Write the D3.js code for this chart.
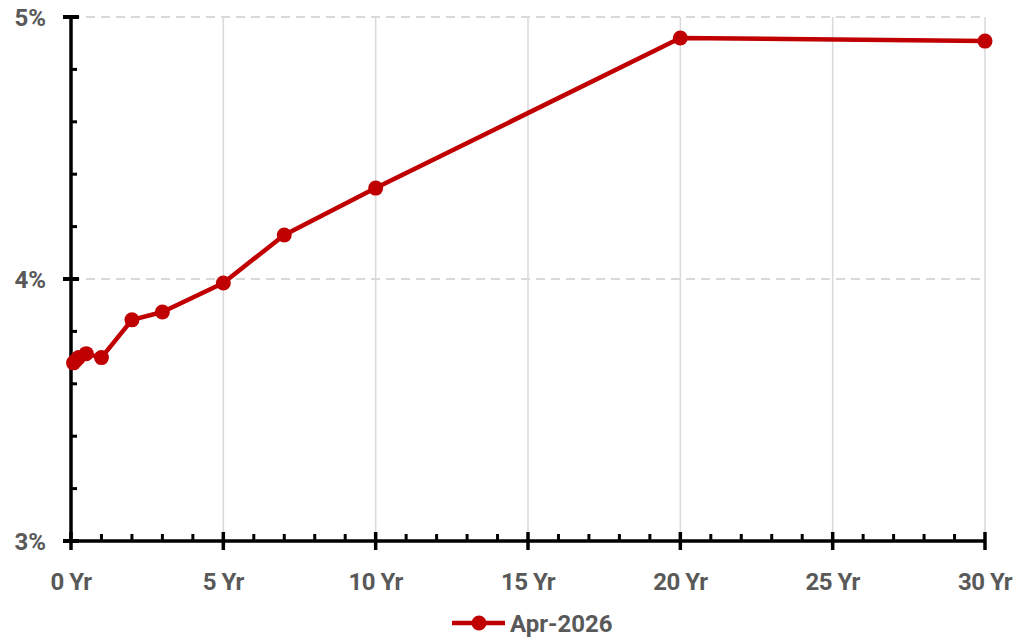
<!DOCTYPE html>
<html>
<head>
<meta charset="utf-8">
<script src="https://cdn.jsdelivr.net/npm/d3@7"></script>
<style>
body{margin:0;background:#fff;}
text{font-family:"Liberation Sans Narrow","Arial Narrow",Roboto,sans-serif;font-weight:bold;fill:#595959;}
</style>
</head>
<body>
<div id="chart"></div>
<script>
(function(){
	var width = 1014,
	height = 637;

	// tenor in years, yield in %
	var tenors = [0.083, 0.167, 0.25, 0.5, 1, 2, 3, 5, 7, 10, 20, 30];
	var yields = [3.68, 3.69, 3.70, 3.715, 3.70, 3.844, 3.874, 3.985, 4.168, 4.347, 4.92, 4.908];
	var seriesName = "Apr-2026";
	var xTicks = [0, 5, 10, 15, 20, 25, 30];
	var yTicks = [3, 4, 5];

	var red = "#c00000";

	var svg = d3.select("#chart")
		.append("svg")
		.attr("width", width)
		.attr("height", height)

	var x = d3.scaleLinear().domain([0, 30]).range([71, 985])
	var y = d3.scaleLinear().domain([3, 5]).range([541, 17])

	// vertical grid
	svg.selectAll(".vgrid")
		.data(xTicks.slice(1))
		.enter().append("line")
		.attr("class", "vgrid")
		.attr("x1", function(d){ return x(d); })
		.attr("x2", function(d){ return x(d); })
		.attr("y1", y(5))
		.attr("y2", y(3))
		.style("stroke", "#d9d9d9")
		.style("stroke-width", "1.5px")

	// horizontal dashed grid
	svg.selectAll(".hgrid")
		.data(yTicks.slice(1))
		.enter().append("line")
		.attr("class", "hgrid")
		.attr("x1", x(0))
		.attr("x2", x(30))
		.attr("y1", function(d){ return y(d); })
		.attr("y2", function(d){ return y(d); })
		.style("stroke", "#d9d9d9")
		.style("stroke-width", "2px")
		.style("stroke-dasharray", "9,6")

	// minor ticks
	var yMinor = d3.range(3, 5.001, 0.2).filter(function(d){ return Math.abs(d - Math.round(d)) > 0.01; })
	svg.selectAll(".yminor")
		.data(yMinor)
		.enter().append("line")
		.attr("x1", x(0))
		.attr("x2", x(0) + 6)
		.attr("y1", function(d){ return y(d); })
		.attr("y2", function(d){ return y(d); })
		.style("stroke", "#000")
		.style("stroke-width", "3px")

	var xMinor = d3.range(1, 30).filter(function(d){ return d % 5 != 0; })
	svg.selectAll(".xminor")
		.data(xMinor)
		.enter().append("line")
		.attr("x1", function(d){ return x(d); })
		.attr("x2", function(d){ return x(d); })
		.attr("y1", y(3))
		.attr("y2", y(3) - 7)
		.style("stroke", "#000")
		.style("stroke-width", "3px")

	// major ticks
	svg.selectAll(".ymajor")
		.data(yTicks)
		.enter().append("line")
		.attr("x1", x(0) - 8)
		.attr("x2", x(0) + 8)
		.attr("y1", function(d){ return y(d); })
		.attr("y2", function(d){ return y(d); })
		.style("stroke", "#000")
		.style("stroke-width", "4px")

	svg.selectAll(".xmajor")
		.data(xTicks)
		.enter().append("line")
		.attr("x1", function(d){ return x(d); })
		.attr("x2", function(d){ return x(d); })
		.attr("y1", y(3) - 9)
		.attr("y2", y(3) + 9)
		.style("stroke", "#000")
		.style("stroke-width", "3.5px")

	// axis lines
	svg.append("line")
		.attr("x1", x(0)).attr("x2", x(0))
		.attr("y1", y(5)).attr("y2", y(3))
		.style("stroke", "#000")
		.style("stroke-width", "3.5px")
	svg.append("line")
		.attr("x1", x(0)).attr("x2", x(30))
		.attr("y1", y(3)).attr("y2", y(3))
		.style("stroke", "#000")
		.style("stroke-width", "3.5px")

	// tick labels
	svg.selectAll(".ylbl")
		.data(yTicks)
		.enter().append("text")
		.attr("x", 46)
		.attr("y", function(d){ return y(d) + 9; })
		.attr("text-anchor", "end")
		.attr("font-size", "24px")
		.text(function(d){ return d + "%"; })

	svg.selectAll(".xlbl")
		.data(xTicks)
		.enter().append("text")
		.attr("x", function(d){ return x(d); })
		.attr("y", 590)
		.attr("text-anchor", "middle")
		.attr("font-size", "24px")
		.attr("letter-spacing", "-0.5px")
		.text(function(d){ return d + " Yr"; })

	// series
	var pts = tenors.map(function(t, i){ return [t, yields[i]]; })
	var line = d3.line()
		.x(function(d){ return x(d[0]); })
		.y(function(d){ return y(d[1]); })

	svg.append("path")
		.datum(pts)
		.attr("d", line)
		.attr("fill", "none")
		.attr("stroke", red)
		.attr("stroke-width", 4.5)
		.attr("stroke-linejoin", "round")

	svg.selectAll(".dot")
		.data(pts)
		.enter().append("circle")
		.attr("class", "dot")
		.attr("cx", function(d){ return x(d[0]); })
		.attr("cy", function(d){ return y(d[1]); })
		.attr("r", 7.5)
		.attr("fill", red)

	// legend
	var lg = svg.append("g").attr("transform", "translate(452,623)")
	lg.append("line")
		.attr("x1", 0).attr("x2", 53)
		.attr("y1", 0).attr("y2", 0)
		.attr("stroke", red)
		.attr("stroke-width", 4.5)
	lg.append("circle")
		.attr("cx", 27).attr("cy", 0).attr("r", 7.5)
		.attr("fill", red)
	lg.append("text")
		.attr("x", 58)
		.attr("y", 9)
		.attr("font-size", "24px")
		.text(seriesName)
})();
</script>
</body>
</html>
